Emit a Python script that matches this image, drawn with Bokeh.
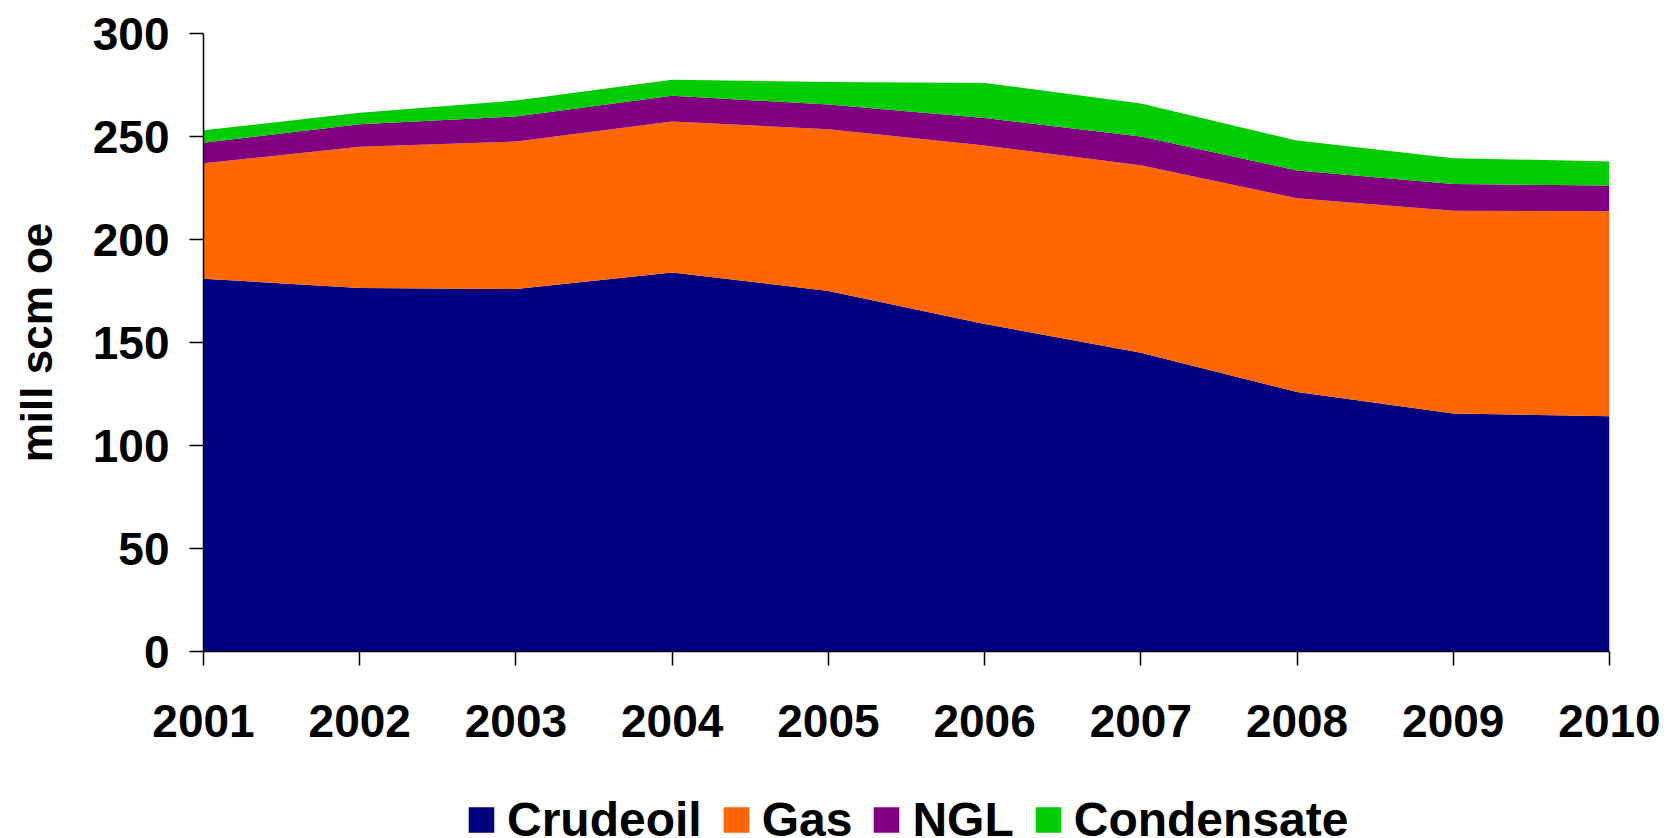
from bokeh.plotting import figure
from bokeh.layouts import column
from bokeh.models import ColumnDataSource, Legend, LegendItem, FixedTicker, Range1d
from bokeh.embed import file_html
from bokeh.resources import INLINE

years = [2001, 2002, 2003, 2004, 2005, 2006, 2007, 2008, 2009, 2010]
crudeoil = [181.0, 176.5, 176.0, 184.0, 175.0, 159.0, 145.0, 126.0, 115.5, 114.2]
gas = [56.0, 68.5, 71.6, 73.3, 78.5, 86.6, 91.0, 94.0, 98.5, 99.5]
ngl = [10.0, 11.0, 12.1, 12.5, 12.0, 13.4, 14.0, 13.5, 13.0, 12.5]
condensate = [6.0, 5.5, 7.8, 7.7, 11.0, 17.0, 16.0, 14.5, 12.5, 11.7]

names = ["Crudeoil", "Gas", "NGL", "Condensate"]
colors = ["#000080", "#FF6600", "#800080", "#00CC00"]
yticks = [0, 50, 100, 150, 200, 250, 300]

FONT = "Liberation Sans"

source = ColumnDataSource(dict(year=years, Crudeoil=crudeoil, Gas=gas, NGL=ngl, Condensate=condensate))

p = figure(width=1668, height=788, output_backend="svg", toolbar_location=None,
           x_range=Range1d(years[0], years[-1]), y_range=Range1d(0, 300))
p.min_border_left = 203
p.min_border_right = 59
p.min_border_top = 33
p.min_border_bottom = 788 - 651
p.outline_line_color = None
p.xgrid.grid_line_color = None
p.ygrid.grid_line_color = None
p.background_fill_color = "white"
p.border_fill_color = "white"

p.varea_stack(stackers=names, x="year", color=colors, source=source)

for ax in (p.xaxis[0], p.yaxis[0]):
    ax.axis_line_color = "black"
    ax.axis_line_width = 1.5
    ax.major_tick_line_color = "black"
    ax.major_tick_line_width = 1.5
    ax.major_tick_out = 14
    ax.major_tick_in = 0
    ax.minor_tick_line_color = None
    ax.major_label_text_font = FONT
    ax.major_label_text_font_style = "bold"
    ax.major_label_text_font_size = "46px"
    ax.major_label_text_color = "black"

p.xaxis[0].ticker = FixedTicker(ticks=years)
p.xaxis[0].major_label_standoff = 39
p.yaxis[0].ticker = FixedTicker(ticks=yticks)
p.yaxis[0].major_label_standoff = 20
p.yaxis[0].axis_label = "mill scm oe"
p.yaxis[0].axis_label_text_font = FONT
p.yaxis[0].axis_label_text_font_style = "bold"
p.yaxis[0].axis_label_text_font_size = "44px"
p.yaxis[0].axis_label_text_color = "black"
p.yaxis[0].axis_label_standoff = 29

# legend strip below the chart (its stacked areas lie outside its own ranges)
lf = figure(width=1668, height=50, output_backend="svg", toolbar_location=None,
            x_range=Range1d(-10, -9), y_range=Range1d(-10, -9))
lf.min_border_left = 203
lf.min_border_right = 59
lf.min_border_top = 12
lf.min_border_bottom = 0
lf.outline_line_color = None
lf.xaxis.visible = False
lf.yaxis.visible = False
lf.xgrid.grid_line_color = None
lf.ygrid.grid_line_color = None
lf.border_fill_color = "white"
lrs = lf.varea_stack(stackers=names, x="year", color=colors, source=source)

items = [LegendItem(label=n, renderers=[r]) for n, r in zip(names, lrs)]
legend = Legend(items=items, orientation="horizontal", location="left",
                label_text_font=FONT, label_text_font_style="bold",
                label_text_font_size="48px", label_text_color="black",
                label_height=32,
                glyph_width=32, glyph_height=32, label_standoff=10, spacing=18,
                border_line_color=None, background_fill_alpha=0,
                margin=262, padding=0)
lf.add_layout(legend, "center")

layout = column(p, lf, spacing=0)
open("out.html", "w").write(file_html(layout, INLINE))
